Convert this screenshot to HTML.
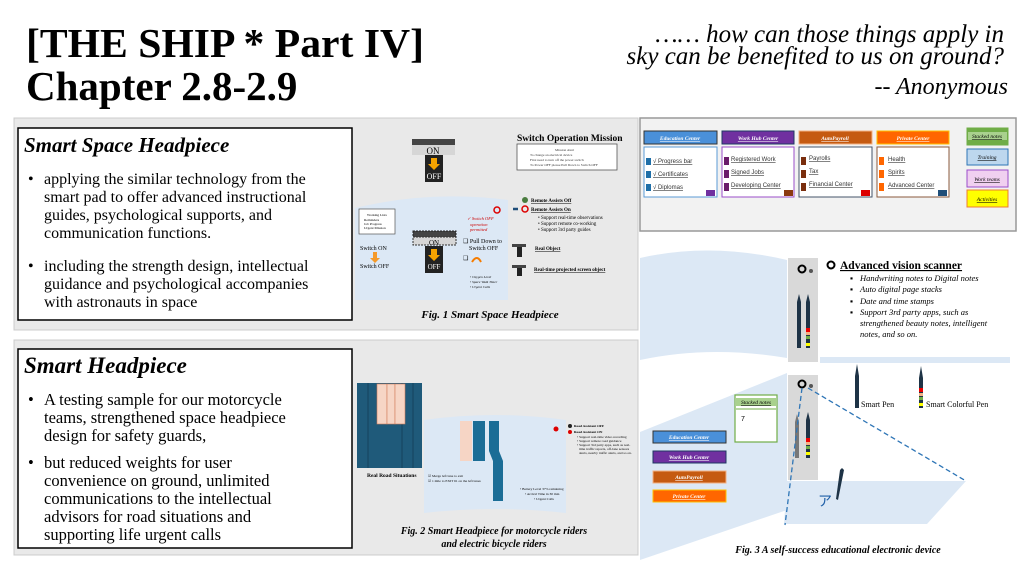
<!DOCTYPE html>
<html><head><meta charset="utf-8"><style>
html,body{margin:0;padding:0;background:#fff;width:1024px;height:565px;overflow:hidden}
svg{display:block}
text{font-family:"Liberation Serif",serif}
.s{font-family:"Liberation Sans",sans-serif}
</style></head><body>
<svg width="1024" height="565" viewBox="0 0 1024 565" xmlns="http://www.w3.org/2000/svg">
<!-- Title -->
<text x="26" y="57" font-size="41" font-weight="bold" textLength="398" lengthAdjust="spacingAndGlyphs">[THE SHIP * Part IV]</text>
<text x="26" y="100" font-size="41" font-weight="bold">Chapter 2.8-2.9</text>
<text x="1004" y="42" font-size="25" font-style="italic" text-anchor="end">…… how can those things apply in</text>
<text x="1004" y="64" font-size="25" font-style="italic" text-anchor="end">sky can be benefited to us on ground?</text>
<text x="1008" y="94" font-size="24" font-style="italic" text-anchor="end">-- Anonymous</text>

<!-- Panels -->
<rect x="14" y="118" width="624" height="212" fill="#e9e9e9" stroke="#ccc"/>
<rect x="14" y="340" width="624" height="215" fill="#e9e9e9" stroke="#ccc"/>
<rect x="640" y="118" width="376" height="113" fill="#f2f2f2" stroke="#999" stroke-width="1.5"/>

<!-- Text box 1 -->
<rect x="18" y="128" width="334" height="192" fill="#fff" stroke="#000" stroke-width="1.5"/>
<text x="24" y="152" font-size="21" font-weight="bold" font-style="italic">Smart Space Headpiece</text>
<g font-size="16">
<text x="28" y="184">•</text><text x="44" y="184">applying the similar technology from the</text>
<text x="44" y="202">smart pad to offer advanced instructional</text>
<text x="44" y="220">guides, psychological supports, and</text>
<text x="44" y="238">communication functions.</text>
<text x="28" y="271">•</text><text x="44" y="271">including the strength design, intellectual</text>
<text x="44" y="289">guidance and psychological accompanies</text>
<text x="44" y="307">with astronauts in space</text>
</g>
<!-- Text box 2 -->
<rect x="18" y="349" width="334" height="199" fill="#fff" stroke="#000" stroke-width="1.5"/>
<text x="24" y="373" font-size="23" font-weight="bold" font-style="italic">Smart Headpiece</text>
<g font-size="16.5">
<text x="28" y="405">•</text><text x="44" y="405">A testing sample for our motorcycle</text>
<text x="44" y="423">teams, strengthened space headpiece</text>
<text x="44" y="441">design for safety guards,</text>
<text x="28" y="468">•</text><text x="44" y="468">but reduced weights for user</text>
<text x="44" y="486">convenience on ground, unlimited</text>
<text x="44" y="504">communications to the intellectual</text>
<text x="44" y="522">advisors for road situations and</text>
<text x="44" y="540">supporting life urgent calls</text>
</g>

<!-- Fig 1 -->
<rect x="412" y="139" width="43" height="6" fill="#444"/>
<rect x="412" y="145" width="43" height="10" fill="#d6d6d6"/>
<text x="433" y="154" font-size="9" text-anchor="middle">ON</text>
<rect x="425" y="155" width="18" height="27" fill="#222"/>
<path d="M431 158h6v6h3l-6 6-6-6h3z" fill="#f5a300"/>
<text x="434" y="179" font-size="8" fill="#fff" text-anchor="middle">OFF</text>
<text x="517" y="141" font-size="9.5" font-weight="bold">Switch Operation Mission</text>
<rect x="517" y="144" width="100" height="26" fill="#fff" stroke="#555" stroke-width=".8"/>
<g font-size="3.5" fill="#333"><text x="555" y="151">Mission Alert</text><text x="530" y="156">To change an electrical device</text><text x="530" y="161">First need to turn off the power switch</text><text x="530" y="166">To Power OFF please Pull Down to Switch OFF</text></g>
<path d="M355 208 Q430 190 508 200 L508 300 L355 300 Z" fill="#dce8f5"/>
<rect x="359" y="209" width="36" height="25" fill="#fff" stroke="#555" stroke-width=".7"/>
<g font-size="3.5"><text x="367" y="216">Working Lists</text><text x="364" y="221">Reminders</text><text x="364" y="225">Job Progress</text><text x="364" y="229">Urgent Mission</text></g>
<text x="360" y="250" font-size="6">Switch ON</text>
<path d="M373 252h4v6h3l-5 5-5-5h3z" fill="#f59a2a"/>
<text x="360" y="268" font-size="6">Switch OFF</text>
<rect x="413" y="231" width="43" height="6" fill="#444" stroke="#222" stroke-dasharray="2 1"/>
<rect x="413" y="237" width="43" height="8" fill="#d6d6d6" stroke="#333" stroke-dasharray="2 1"/>
<text x="434" y="245" font-size="7" text-anchor="middle">ON</text>
<rect x="425" y="246" width="18" height="27" fill="#222"/>
<path d="M431 249h6v6h3l-6 6-6-6h3z" fill="#f5a300"/>
<text x="434" y="269" font-size="7" fill="#fff" text-anchor="middle">OFF</text>
<g font-size="4.5" fill="#c00" font-style="italic"><text x="467" y="220">✓ Switch OFF</text><text x="470" y="226">operation</text><text x="470" y="231">permitted</text></g>
<circle cx="497" cy="210" r="3" fill="none" stroke="#d00" stroke-width="1.5"/>
<text x="463" y="243" font-size="6">❑ Pull Down to</text><text x="469" y="250" font-size="6">Switch OFF</text>
<text x="463" y="260" font-size="6">❑</text><path d="M472 262 q5 -8 9 0" fill="none" stroke="#f57c00" stroke-width="2"/>
<g font-size="3.5" font-style="italic"><text x="470" y="278">• Oxygen Level</text><text x="470" y="283">• Space Walk Timer</text><text x="470" y="288">• Urgent Calls</text></g>
<circle cx="525" cy="200" r="3" fill="#4a7c3f"/>
<text x="531" y="202" font-size="5" font-weight="bold" text-decoration="underline">Remote Assists Off</text>
<path d="M513 209h5" stroke="#1f4e79" stroke-width="2.5"/>
<circle cx="525" cy="209" r="3" fill="none" stroke="#d00" stroke-width="1.5"/>
<text x="531" y="211" font-size="5" font-weight="bold" text-decoration="underline">Remote Assists On</text>
<g font-size="5"><text x="538" y="219">•  Support real-time observations</text><text x="538" y="225">•  Support remote co-working</text><text x="538" y="231">•  Support 3rd party guides</text></g>
<rect x="512" y="244" width="14" height="3" fill="#444"/><rect x="517" y="247" width="5" height="10" fill="#222"/>
<text x="535" y="250" font-size="5" font-weight="bold" text-decoration="underline">Real Object</text>
<rect x="512" y="265" width="14" height="3" fill="#444"/><rect x="517" y="268" width="5" height="8" fill="#222"/>
<text x="534" y="271" font-size="5" font-weight="bold" text-decoration="underline">Real-time projected screen object</text>
<text x="490" y="318" font-size="11" font-weight="bold" font-style="italic" text-anchor="middle">Fig. 1 Smart Space Headpiece</text>

<!-- Fig 2 -->
<rect x="357" y="383" width="65" height="85" fill="#1f5a7a"/>
<g stroke="#123e56" stroke-width=".8"><path d="M368 383v85M402 383v85M413 383v85"/></g>
<rect x="377" y="384" width="10" height="40" fill="#f6d5c5" stroke="#d27d5a" stroke-width=".6"/>
<rect x="387" y="384" width="8" height="40" fill="#f6d5c5" stroke="#d27d5a" stroke-width=".6"/>
<rect x="395" y="384" width="10" height="40" fill="#f6d5c5" stroke="#d27d5a" stroke-width=".6"/>
<text x="367" y="477" font-size="5.5" font-weight="bold">Real Road Situations</text>
<path d="M424 420 Q495 410 566 420 L566 513 Q495 505 424 513 Z" fill="#dce8f5"/>
<rect x="460" y="421" width="12" height="40" fill="#f6d5c5"/>
<path d="M473 421h12v40h-12z" fill="#1b6d96"/>
<path d="M489 421h10v30l4 10v40h-10v-40l-4 -10z" fill="#1b6d96"/>
<g font-size="3.5"><text x="428" y="477">☑ Merge left lane to exit</text><text x="428" y="482">☑ 1 mile to EXIT 61 on the left lanes</text></g>
<g font-size="3.5"><text x="520" y="490">• Battery Level 37% remaining</text><text x="525" y="495">• Arrival Time in 30 min</text><text x="534" y="500">• Urgent Calls</text></g>
<circle cx="556" cy="429" r="2.5" fill="#d00"/>
<circle cx="570" cy="426" r="2" fill="#222"/><circle cx="570" cy="432" r="2" fill="#d00"/>
<g font-size="3.5"><text x="574" y="427" font-weight="bold">Road Assistant OFF</text><text x="574" y="433" font-weight="bold">Road Assistant ON</text><text x="577" y="438">• Support real-time video recording</text><text x="577" y="442">• Support remote road guidance</text><text x="577" y="446">• Support 3rd party apps, such as real-</text><text x="579" y="450">time traffic reports, off-lane sensors</text><text x="579" y="454">alerts, nearby traffic alerts, and so on.</text></g>
<text x="494" y="534" font-size="10" font-weight="bold" font-style="italic" text-anchor="middle">Fig. 2 Smart Headpiece for motorcycle riders</text>
<text x="494" y="547" font-size="10" font-weight="bold" font-style="italic" text-anchor="middle">and electric bicycle riders</text>

<!-- Right top panel: menu -->
<g font-size="5.5" font-style="italic" font-weight="bold" fill="#fff" text-anchor="middle">
<rect x="644" y="131" width="73" height="13" fill="#4a90d9" stroke="#333"/><text x="680" y="140" text-decoration="underline">Education Center</text>
<rect x="722" y="131" width="72" height="13" fill="#7030a0" stroke="#1f3864"/><text x="758" y="140" text-decoration="underline">Work Hub Center</text>
<rect x="799" y="131" width="73" height="13" fill="#c55a11" stroke="#f4b183"/><text x="835" y="140" text-decoration="underline">AutoPayroll</text>
<rect x="877" y="131" width="72" height="13" fill="#ff6600" stroke="#ffc000"/><text x="913" y="140" text-decoration="underline">Private Center</text>
</g>
<rect x="644" y="147" width="73" height="50" fill="#fff" stroke="#5b9bd5"/>
<rect x="722" y="147" width="72" height="50" fill="#fff" stroke="#9b4dca"/>
<rect x="799" y="147" width="73" height="50" fill="#fff" stroke="#44546a"/>
<rect x="877" y="147" width="72" height="50" fill="#fff" stroke="#8b5a3c"/>
<g font-size="6" fill="#333" text-decoration="underline">
<rect x="646" y="158" width="5" height="7" fill="#1f6fa8"/><rect x="646" y="171" width="5" height="7" fill="#1f6fa8"/><rect x="646" y="184" width="5" height="7" fill="#1f6fa8"/>
<text x="653" y="163" class="s">√ Progress bar</text><text x="653" y="176" class="s">√ Certificates</text><text x="653" y="189" class="s">√ Diplomas</text>
<rect x="706" y="190" width="9" height="6" fill="#7030a0"/>
<rect x="724" y="157" width="5" height="8" fill="#6a1b6a"/><rect x="724" y="170" width="5" height="8" fill="#6a1b6a"/><rect x="724" y="183" width="5" height="8" fill="#6a1b6a"/>
<text x="731" y="161" class="s">Registered Work</text><text x="731" y="174" class="s">Signed Jobs</text><text x="731" y="187" class="s">Developing Center</text>
<rect x="784" y="190" width="9" height="6" fill="#8b3a0f"/>
<rect x="801" y="157" width="5" height="8" fill="#7a2e0e"/><rect x="801" y="170" width="5" height="8" fill="#7a2e0e"/><rect x="801" y="183" width="5" height="8" fill="#7a2e0e"/>
<text x="809" y="160" class="s">Payrolls</text><text x="809" y="173" class="s">Tax</text><text x="809" y="186" class="s">Financial Center</text>
<rect x="861" y="190" width="9" height="6" fill="#d00"/>
<rect x="879" y="157" width="5" height="8" fill="#ff6600"/><rect x="879" y="170" width="5" height="8" fill="#ff6600"/><rect x="879" y="183" width="5" height="8" fill="#ff6600"/>
<text x="888" y="161" class="s">Health</text><text x="888" y="174" class="s">Spirits</text><text x="888" y="187" class="s">Advanced Center</text>
<rect x="938" y="190" width="9" height="6" fill="#1f4e79"/>
</g>
<g font-size="5.5" font-style="italic" text-anchor="middle" text-decoration="underline">
<rect x="967" y="128" width="41" height="17" fill="#70ad47" stroke="#70ad47"/><rect x="968" y="132" width="39" height="8" fill="#a9d18e"/><text x="987" y="138">Stacked notes</text>
<rect x="967" y="149" width="41" height="16" fill="#bdd7ee" stroke="#2e75b6"/><text x="987" y="159">Training</text>
<rect x="967" y="170" width="41" height="17" fill="#f0d0f0" stroke="#9b4dca"/><text x="987" y="181">Work teams</text>
<rect x="967" y="190" width="41" height="17" fill="#ffff00" stroke="#ed7d31"/><text x="987" y="201">Activities</text>
</g>

<!-- Fig 3 -->
<path d="M640 258 Q710 242 787 260 L787 358 Q710 345 640 360 Z" fill="#dce8f5"/>
<path d="M640 432 L787 373 L787 510 L640 560 Z" fill="#dce8f5"/>
<rect x="788" y="258" width="30" height="104" fill="#d9d9d9"/>
<circle cx="802" cy="269" r="3.5" fill="none" stroke="#000" stroke-width="2"/><circle cx="811" cy="271" r="2" fill="#555"/>
<path d="M797 302 l2 -8 2 8 v46 h-4z" fill="#1e3346"/>
<path d="M806 302 l2 -8 2 8 v46 h-4z" fill="#1e3346"/>
<rect x="806" y="328" width="4" height="4" fill="#e00"/><rect x="806" y="332" width="4" height="3" fill="#f4b183"/><rect x="806" y="336" width="4" height="3" fill="#70ad47"/><rect x="806" y="343" width="4" height="3" fill="#ff0"/>
<rect x="820" y="357" width="190" height="6" fill="#dce8f5"/>
<circle cx="831" cy="265" r="3.5" fill="none" stroke="#000" stroke-width="2"/>
<text x="840" y="269" font-size="11.5" font-weight="bold" text-decoration="underline">Advanced vision scanner</text>
<g font-size="8.5" font-style="italic"><text x="850" y="281">▪</text><text x="860" y="281">Handwriting notes to Digital notes</text>
<text x="850" y="292">▪</text><text x="860" y="292">Auto digital page stacks</text>
<text x="850" y="304">▪</text><text x="860" y="304">Date and time stamps</text>
<text x="850" y="315">▪</text><text x="860" y="315">Support 3rd party apps, such as</text>
<text x="860" y="326">strengthened beauty notes, intelligent</text>
<text x="860" y="337">notes, and so on.</text></g>
<path d="M855 376 l2 -12 2 12 v32 h-4z" fill="#1e3346"/>
<text x="861" y="407" font-size="8">Smart Pen</text>
<path d="M919 378 l2 -12 2 12 v30 h-4z" fill="#1e3346"/>
<rect x="919" y="388" width="4" height="4" fill="#e00"/><rect x="919" y="393" width="4" height="3" fill="#f4b183"/><rect x="919" y="397" width="4" height="3" fill="#70ad47"/><rect x="919" y="403" width="4" height="3" fill="#ff0"/>
<text x="926" y="407" font-size="8">Smart Colorful Pen</text>
<rect x="788" y="375" width="30" height="105" fill="#d9d9d9"/>
<circle cx="802" cy="384" r="3.5" fill="none" stroke="#000" stroke-width="2"/><circle cx="811" cy="386" r="2" fill="#555"/>
<path d="M795 422 l2 -8 2 8 v36 h-4z" fill="#777"/>
<path d="M806 420 l2 -8 2 8 v38 h-4z" fill="#1e3346"/>
<rect x="806" y="438" width="4" height="4" fill="#e00"/><rect x="806" y="442" width="4" height="3" fill="#f4b183"/><rect x="806" y="446" width="4" height="3" fill="#70ad47"/><rect x="806" y="452" width="4" height="3" fill="#ff0"/>
<path d="M787 481 L966 481 L927 524 L784 524 Z" fill="#dce8f5"/>
<path d="M802 388 L785 525 M808 388 L966 481" stroke="#2e75b6" stroke-width="1.3" stroke-dasharray="5 3" fill="none"/>
<path d="M840 470 l2 -2 2 2 -6 30 -2 -1z" fill="#1e3346"/>
<text x="818" y="506" font-size="14" fill="#1f5fa8">ア</text>
<rect x="735" y="395" width="42" height="47" fill="#fff" stroke="#70ad47" stroke-width="1.2"/>
<rect x="736" y="398" width="40" height="8" fill="#a9d18e"/>
<text x="756" y="404" font-size="5.5" font-style="italic" text-anchor="middle" text-decoration="underline">Stacked notes</text>
<line x1="736" y1="409" x2="776" y2="409" stroke="#70ad47"/>
<text x="741" y="421" font-size="7" class="s">7</text>
<g font-size="5.5" font-style="italic" font-weight="bold" fill="#fff" text-anchor="middle">
<rect x="653" y="431" width="73" height="12" fill="#4a90d9" stroke="#333"/><text x="689" y="439" text-decoration="underline">Education Center</text>
<rect x="653" y="451" width="73" height="12" fill="#7030a0" stroke="#1f3864"/><text x="689" y="459" text-decoration="underline">Work Hub Center</text>
<rect x="653" y="471" width="73" height="12" fill="#c55a11" stroke="#f4b183"/><text x="689" y="479" text-decoration="underline">AutoPayroll</text>
<rect x="653" y="490" width="73" height="12" fill="#ff6600" stroke="#ffc000"/><text x="689" y="498" text-decoration="underline">Private Center</text>
</g>
<text x="838" y="553" font-size="10" font-weight="bold" font-style="italic" text-anchor="middle">Fig. 3 A self-success educational electronic device</text>
</svg>
</body></html>
